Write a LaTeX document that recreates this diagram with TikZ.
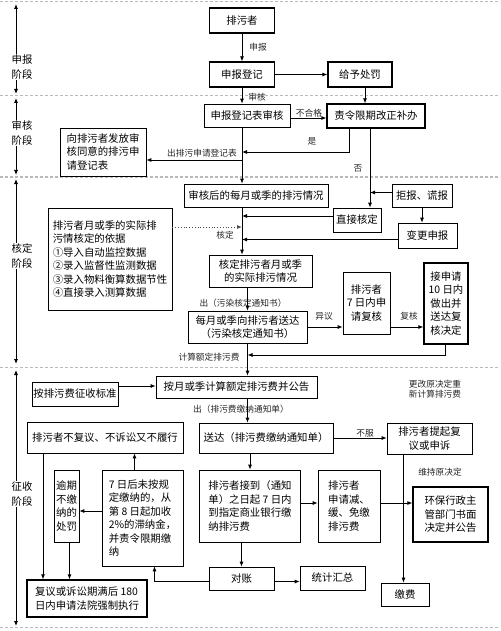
\documentclass[tikz,border=0pt]{standalone}
\usepackage{fontspec}
\newfontfamily\cjk{Noto Sans CJK SC}
\usetikzlibrary{arrows.meta}
\tikzset{
  box/.style={draw, line width=0.7pt, font=\cjk\fontsize{10.4}{13.5}\selectfont, inner sep=1pt, align=center},
  heavy/.style={line width=1.3pt},
  lbl/.style={font=\cjk\fontsize{8.7}{10.5}\selectfont, text=black!85, inner sep=1pt},
  stagelbl/.style={font=\cjk\fontsize{10.4}{15}\selectfont, fill=white, align=center, inner sep=1pt},
  link/.style={-{Latex[length=5pt,width=4pt]}, line width=0.8pt},
  stage/.style={{Latex[length=5pt,width=4pt]}-{Latex[length=5pt,width=4pt]}, line width=0.8pt},
  sep/.style={gray!55, dash pattern=on 3pt off 2pt, line width=1pt}
}
\begin{document}
\begin{tikzpicture}[x=1pt,y=-1pt]
\useasboundingbox (0,0) rectangle (500,631);
\draw[sep] (0,2) -- (500,2);
\draw[sep] (0,96) -- (500,96);
\draw[sep] (0,177) -- (500,177);
\draw[sep] (0,367) -- (500,367);
\draw[sep] (0,627) -- (500,627);
\coordinate (a0) at (16,4);
\coordinate (a1) at (16,94);
\coordinate (b0) at (16,98);
\coordinate (b1) at (16,175);
\coordinate (c0) at (16,179);
\coordinate (c1) at (16,364);
\coordinate (d0) at (16,370);
\coordinate (d1) at (16,626);
\draw[stage] (a0) -- (a1);
\draw[stage] (b0) -- (b1);
\draw[stage] (c0) -- (c1);
\draw[stage] (d0) -- (d1);
\node[stagelbl] (jd1) at (22,67) {申报\\阶段};
\node[stagelbl] (jd2) at (22,133) {审核\\阶段};
\node[stagelbl] (jd3) at (22,256) {核定\\阶段};
\node[stagelbl] (jd4) at (22,494) {征收\\阶段};

\node[box, heavy, minimum width=65pt, minimum height=25pt] (zhe) at (242,20.5) {排污者};
\node[box, heavy, minimum width=65pt, minimum height=25pt] (dengji) at (242,74.5) {申报登记};
\node[box, heavy, minimum width=64pt, minimum height=25pt] (chufa) at (360,74.5) {给予处罚};
\node[box, minimum width=86pt, minimum height=23pt] (shenhe) at (247,115.5) {申报登记表审核};
\node[box, heavy, minimum width=98pt, minimum height=24pt] (buban) at (376,116) {责令限期改正补办};
\node[box, align=left, minimum width=86pt, minimum height=48pt] (fafang) at (103,152) {向排污者发放审\\核同意的排污申\\请登记表};
\node[box, minimum width=144pt, minimum height=23pt] (qingkuang) at (256,195.5) {审核后的每月或季的排污情况};
\node[box, minimum width=60pt, minimum height=23pt] (jubao) at (422,195.5) {拒报、谎报};
\node[box, minimum width=48pt, minimum height=24pt] (zhijie) at (357,220) {直接核定};
\node[box, minimum width=59pt, minimum height=25pt] (biangeng) at (427.5,235.5) {变更申报};
\node[box, align=left, minimum width=124pt, minimum height=102pt] (yiju) at (110,259) {排污者月或季的实际排\\污情核定的依据\\①导入自动监控数据\\②录入监督性监测数据\\③录入物料衡算数据节性\\④直接录入测算数据};
\node[box, minimum width=103pt, minimum height=32pt] (heding) at (260.5,271) {核定排污者月或季\\的实际排污情况};
\node[box, minimum width=119pt, minimum height=32pt] (songda1) at (247.5,327) {每月或季向排污者送达\\（污染核定通知书）};
\node[box, minimum width=47pt, minimum height=62pt] (fuhe) at (366.5,303) {排污者\\7 日内申\\请复核};
\node[box, heavy, minimum width=44pt, minimum height=81pt] (jueding) at (446,303.5) {接申请\\10 日内\\做出并\\送达复\\核决定};
\node[box, minimum width=161pt, minimum height=22pt] (gonggao) at (236.5,387) {按月或季计算额定排污费并公告};
\node[box, minimum width=86pt, minimum height=24pt] (biaozhun) at (75,394) {按排污费征收标准};
\node[box, minimum width=156pt, minimum height=31pt] (bulvxing) at (105,437.5) {排污者不复议、不诉讼又不履行};
\node[box, minimum width=134pt, minimum height=30pt] (songda2) at (266,438) {送达（排污费缴纳通知单）};
\node[box, minimum width=85pt, minimum height=31pt] (shensu) at (429.5,438.5) {排污者提起复\\议或申诉};
\node[box, minimum width=25pt, minimum height=72pt] (yuqi) at (66.5,506) {逾期\\不缴\\纳的\\处罚};
\node[box, align=left, minimum width=81pt, minimum height=96pt] (zhinajin) at (142.5,518) {7 日后未按规\\定缴纳的，从\\第 8 日起加收\\2\%的滞纳金，\\并责令限期缴\\纳};
\node[box, align=left, minimum width=101pt, minimum height=72pt] (yinhang) at (250,506) {排污者接到（通知\\单）之日起 7 日内\\到指定商业银行缴\\纳排污费};
\node[box, align=left, minimum width=62pt, minimum height=72pt] (jianmian) at (349,506) {排污者\\申请减、\\缓、免缴\\排污费};
\node[box, heavy, minimum width=75pt, minimum height=55pt] (huanbao) at (450.5,514.5) {环保行政主\\管部门书面\\决定并公告};
\node[box, minimum width=48pt, minimum height=23pt] (jiaofei) at (405,594.5) {缴费};
\node[box, heavy, align=left, minimum width=120pt, minimum height=37pt] (zhixing) at (87,598.5) {复议或诉讼期满后 180\\日内申请法院强制执行};
\node[box, minimum width=65pt, minimum height=23pt] (duizhang) at (241.5,578.5) {对账};
\node[box, minimum width=65pt, minimum height=24pt] (huizong) at (332.5,578) {统计汇总};

\node[lbl] (lshenbao) at (258,47) {申报};
\node[lbl] (lshenhe) at (257,97) {审核};
\node[lbl] (lbuhege) at (309,113) {不合格};
\node[lbl] (lshi) at (312,141) {是};
\node[lbl] (lfou) at (358,168) {否};
\node[lbl] (lchu1) at (202,153) {出排污申请登记表};
\node[lbl] (lheding) at (225,235) {核定};
\node[lbl] (lchu2) at (243,303) {出（污染核定通知书）};
\node[lbl] (lyiyi) at (324,316) {异议};
\node[lbl] (lfuhe) at (409,316) {复核};
\node[lbl] (ljisuan) at (209,357) {计算额定排污费};
\node[lbl, align=center] (lgenggai) at (435,389) {更改原决定重\\新计算排污费};
\node[lbl] (lchu3) at (241,409) {出（排污费缴纳通知单）};
\node[lbl] (lbufu) at (365,433) {不服};
\node[lbl] (lweichi) at (440,472) {维持原决定};

\coordinate (yes) at (242,152);
\coordinate (out1) at (242,160);
\coordinate (fou) at ([xshift=-6pt]buban.south);
\coordinate (back) at (247.5,355);

\draw[link] (zhe) -- (dengji);
\draw[link] (dengji) -- (chufa);
\draw[link] ([xshift=5pt]chufa.south) -- ([xshift=5pt]chufa.south |- buban.north);
\draw[link] (dengji.south) -- (dengji.south |- shenhe.north);
\draw[link] ([yshift=-2.5pt]shenhe.east) -- ([yshift=-2.5pt]shenhe.east -| buban.west);
\draw[link] ([xshift=-27pt]buban.south) |- (yes);
\draw[link] (shenhe.south -| dengji.south) -- (dengji.south |- qingkuang.north);
\draw[link] (out1) -- (out1 -| fafang.east);
\draw[link] (fou) -- (fou |- zhijie.north);
\draw[link] ([yshift=3pt]jubao.west) -- ([yshift=3pt]jubao.west -| fou);
\draw[link] (jubao.south) -- (jubao.south |- biangeng.north);
\draw[link] (qingkuang.south -| dengji.south) -- (dengji.south |- heding.north);
\draw[link] ([yshift=4pt]zhijie.west) -- ([yshift=4pt]zhijie.west -| dengji.south);
\draw[link] ([yshift=-4pt]biangeng.west) -- ([yshift=-4pt]biangeng.west -| dengji.south);
\draw[link, dotted, black!70] ([yshift=32pt]yiju.east) -- ([yshift=32pt]yiju.east -| dengji.south);
\draw[link] (songda1.north |- heding.south) -- (songda1.north);
\draw[link] (songda1.east) -- (songda1.east -| fuhe.west);
\draw[link] (fuhe.east |- songda1.east) -- (songda1.east -| jueding.west);
\draw[link] ([xshift=-1pt]jueding.south) |- (back);
\draw[link] (songda1.south) -- (songda1.south |- gonggao.north);
\draw[link] ([yshift=8pt]biaozhun.east) -- ([yshift=8pt]biaozhun.east -| gonggao.west);
\draw[link] (songda1.south |- gonggao.south) -- (songda1.south |- songda2.north);
\draw[link] (songda2.east) -- (songda2.east -| shensu.west);
\draw[link] ([xshift=-26pt]shensu.south) -- ([xshift=-26pt]shensu.south |- jiaofei.north);
\draw[link] (yinhang.north |- songda2.south) -- (yinhang.north);
\draw[link] ([yshift=3pt]yinhang.east) -- ([yshift=3pt]yinhang.east -| jianmian.west);
\draw[link] ([yshift=3pt]jianmian.east) -- ([yshift=3pt]jianmian.east -| huanbao.west);
\draw[link] (duizhang.north |- yinhang.south) -- (duizhang.north);
\draw[link] ([yshift=-3pt]duizhang.west) -| ([xshift=12pt]zhinajin.south);
\draw[link] ([yshift=-3pt]duizhang.east) -- ([yshift=-3pt]duizhang.east -| huizong.west);
\draw[link] ([xshift=-8pt]zhinajin.north) -- ([xshift=-8pt]zhinajin.north |- bulvxing.south);
\draw[link] ([yshift=7pt]zhinajin.west) -- ([yshift=7pt]zhinajin.west -| yuqi.east);
\draw[link] ([xshift=-62pt]bulvxing.south) -- ([xshift=-62pt]bulvxing.south |- zhixing.north);
\draw[link] ([xshift=3pt]yuqi.south) -- ([xshift=3pt]yuqi.south |- zhixing.north);
\end{tikzpicture}
\end{document}
